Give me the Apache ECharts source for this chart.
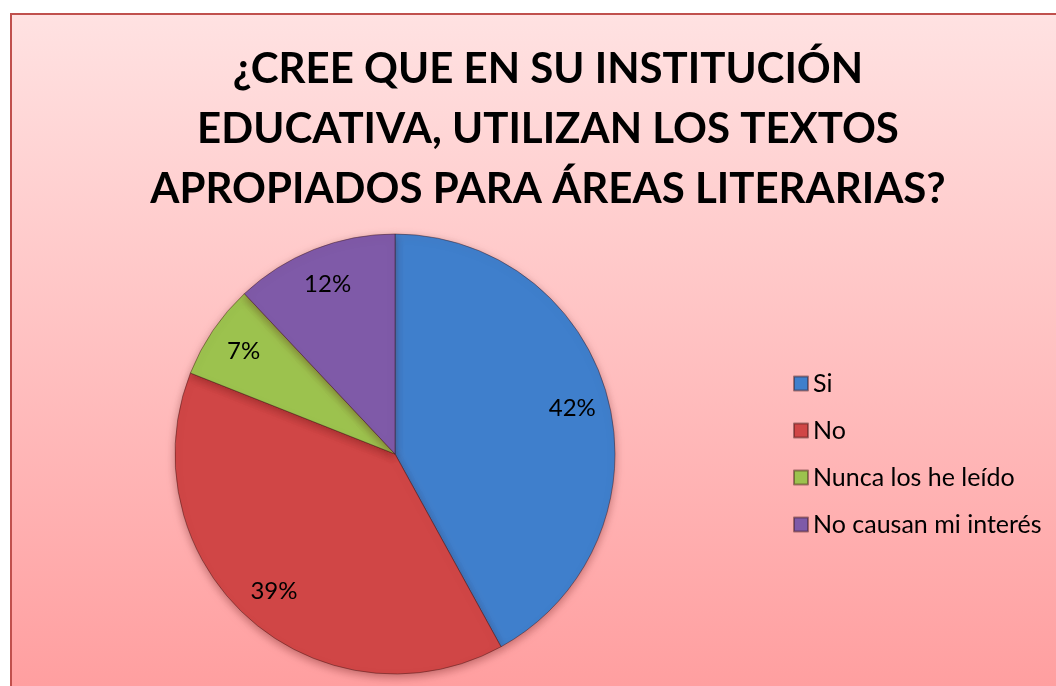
<!DOCTYPE html>
<html>
<head>
<meta charset="utf-8">
<script src="https://cdn.jsdelivr.net/npm/echarts@6/dist/echarts.min.js"></script>
<style>
  html, body { margin: 0; padding: 0; background: #fff; }
  #chart { width: 1056px; height: 686px; }
</style>
</head>
<body>
<div id="chart"></div>
<script>
// datos
var categorias = ['Si', 'No', 'Nunca los he leído', 'No causan mi interés'];
var porcentajes = [42, 39, 7, 12];
var colores = ['#3f7fcc', '#d04646', '#9cc24e', '#7f5aa8'];

var myChart = echarts.init(document.getElementById('chart'));

var datos = categorias.map(function (c, i) {
  return { name: c, value: porcentajes[i], itemStyle: { color: colores[i] } };
});

var option = {
  backgroundColor: '#ffffff',
  textStyle: { fontFamily: 'Lato' },
  graphic: [{
    type: 'rect',
    z: -10,
    shape: { x: 11, y: 14, width: 1060, height: 700 },
    style: {
      fill: new echarts.graphic.LinearGradient(0, 0, 0, 1, [
        { offset: 0, color: '#ffe2e2' },
        { offset: 1, color: '#ff9c9d' }
      ]),
      stroke: '#c0504d',
      lineWidth: 2
    }
  }],
  title: {
    text: '¿CREE QUE EN SU INSTITUCIÓN\nEDUCATIVA, UTILIZAN LOS TEXTOS\nAPROPIADOS PARA ÁREAS LITERARIAS?',
    left: 543,
    top: 34,
    textAlign: 'center',
    textStyle: {
      fontFamily: 'Lato',
      fontWeight: 'bold',
      fontSize: 42,
      lineHeight: 60,
      color: '#000'
    }
  },
  legend: {
    orient: 'vertical',
    left: 788,
    top: 366,
    itemWidth: 14,
    itemHeight: 14,
    itemGap: 22,
    icon: 'rect',
    data: categorias,
    textStyle: { fontSize: 25, color: '#000', fontFamily: 'Lato' }
  },
  series: [
    {
      name: 'Respuestas',
      type: 'pie',
      center: [395, 454],
      radius: [0, 220],
      startAngle: 90,
      clockwise: true,
      label: { show: false },
      labelLine: { show: false },
      itemStyle: {
        borderColor: 'rgba(60,20,20,0.45)',
        borderWidth: 1,
        shadowBlur: 8,
        shadowOffsetY: 3,
        shadowColor: 'rgba(80,0,0,0.35)'
      },
      data: datos
    },
    {
      // anillo invisible solo para ubicar las etiquetas
      name: 'etiquetas',
      type: 'pie',
      center: [395, 454],
      radius: [140, 220],
      startAngle: 90,
      clockwise: true,
      silent: true,
      legendHoverLink: false,
      itemStyle: { color: 'rgba(0,0,0,0)' },
      label: {
        show: true,
        position: 'inside',
        formatter: '{d}%',
        fontSize: 24,
        color: '#000',
        fontFamily: 'Lato'
      },
      labelLine: { show: false },
      data: categorias.map(function (c, i) {
        return { name: c + ' ', value: porcentajes[i] };
      })
    }
  ]
};

myChart.setOption(option);
</script>
</body>
</html>
